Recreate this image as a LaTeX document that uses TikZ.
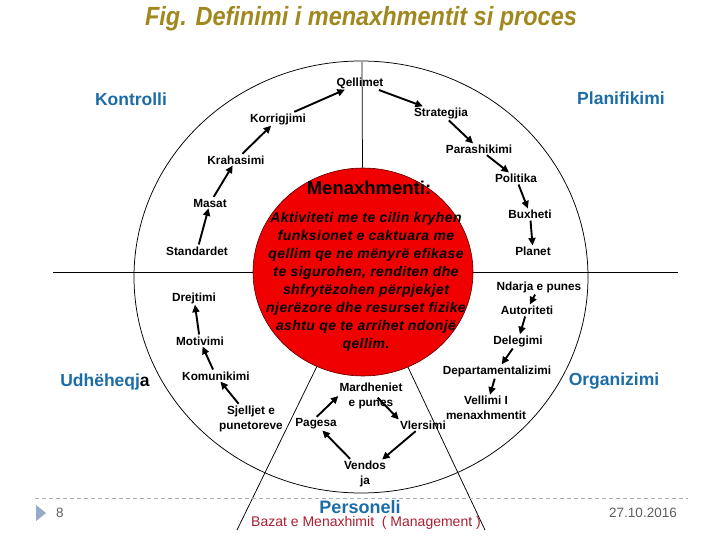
\documentclass[tikz,border=0pt]{standalone}
\usepackage{fontspec}
\setmainfont{Liberation Sans}
\usetikzlibrary{arrows.meta,calc,shapes.geometric}
\definecolor{titlecol}{RGB}{160,136,30}
\definecolor{secblue}{RGB}{28,108,168}
\definecolor{redfill}{RGB}{240,0,0}
\definecolor{redline}{RGB}{90,0,0}
\definecolor{footred}{RGB}{170,30,50}
\definecolor{footgray}{RGB}{95,95,95}
\definecolor{dashgray}{RGB}{170,178,188}
\definecolor{markblue}{RGB}{150,172,198}
\begin{document}
\begin{tikzpicture}[x=1pt,y=-1pt,
  lbl/.style={font=\fontsize{11.8}{15.5}\selectfont\bfseries, inner sep=1pt, align=center},
  sect/.style={font=\fontsize{17.5}{20}\selectfont\bfseries, text=secblue, inner sep=0pt},
  arr/.style={-{Triangle[length=7.5pt,width=7pt]}, line width=1.9pt, shorten <=1pt},
  thinline/.style={line width=0.75pt, draw=black}]

\useasboundingbox (0,0) rectangle (720,540);

% title
\node[font=\fontsize{23.5}{26}\selectfont\bfseries\itshape, text=titlecol, yscale=1.12] (title) at (361,19) {Fig. Definimi i menaxhmentit si proces};

% big circle
\node[ellipse, thinline, minimum width=454pt, minimum height=432pt, inner sep=0pt] (big) at (361,277) {};

% red core
\node[ellipse, fill=redfill, draw=redline, line width=0.6pt, minimum width=220pt, minimum height=208pt, inner sep=0pt] (core) at (363,272) {};

% divider lines
\coordinate (vtop) at (362,62);
\coordinate (lend) at (53,272);
\coordinate (rend) at (678,272);
\coordinate (dlend) at (237,530);
\coordinate (drend) at (485,530);
\draw[thinline] (vtop) -- (core);
\draw[thinline] (lend) -- (core);
\draw[thinline] (core) -- (rend);
\draw[thinline] (core) -- (dlend);
\draw[thinline] (core) -- (drend);

% core text
\node[font=\fontsize{18.5}{20}\selectfont\bfseries, inner sep=0pt] (mtitle) at (369,188) {Menaxhmenti:};
\node[font=\fontsize{14}{18}\selectfont\bfseries\itshape\addfontfeature{LetterSpace=3}, align=center, inner sep=0pt] (mdef) at (366,282)
 {Aktiviteti me te cilin kryhen\\funksionet e caktuara me\\qellim qe ne mënyrë efikase\\te sigurohen, renditen dhe\\shfrytëzohen përpjekjet\\njerëzore dhe resurset fizike\\ashtu qe te arrihet ndonjë\\qellim.};

% sector labels
\node[sect] (kontr) at (131,99) {Kontrolli};
\node[sect] (planif) at (621,98) {Planifikimi};
\node[sect] (organ) at (614,381) {Organizimi};
\node[sect] (udhe) at (105,382) {Udhëheqj\textcolor{black}{a}};

% small labels
\node[lbl] (qel) at (360,83) {Qellimet};
\node[lbl] (kor) at (278,119) {Korrigjimi};
\node[lbl] (kra) at (236,160) {Krahasimi};
\node[lbl] (mas) at (210,203) {Masat};
\node[lbl] (sta) at (197,251) {Standardet};
\node[lbl] (dre) at (194,298) {Drejtimi};
\node[lbl] (mot) at (200,341) {Motivimi};
\node[lbl] (kom) at (216,376) {Komunikimi};
\node[lbl] (sje) at (251,419) {Sjelljet e\\punetoreve};
\node[lbl] (pag) at (316,424) {Pagesa};
\node[lbl] (mar) at (371,396) {Mardheniet\\e punes};
\node[lbl] (vle) at (423,425) {Vlersimi};
\node[lbl] (ven) at (365,474) {Vendos\\ja};
\node[lbl] (vel) at (486,408) {Vellimi I\\menaxhmentit};
\node[lbl] (dep) at (497,371) {Departamentalizimi};
\node[lbl] (del) at (518,341) {Delegimi};
\node[lbl] (aut) at (527,310) {Autoriteti};
\node[lbl] (nda) at (539,287) {Ndarja e punes};
\node[lbl] (pla) at (533,251) {Planet};
\node[lbl] (bux) at (530,214) {Buxheti};
\node[lbl] (pol) at (516,178) {Politika};
\node[lbl] (par) at (479,149) {Parashikimi};
\node[lbl] (str) at (441,113) {Strategjia};

% arrows
\draw[arr] (sta) -- (mas);
\draw[arr] (mas) -- (kra);
\draw[arr] (kra) -- (kor);
\draw[arr] (kor) -- (qel);
\draw[arr] (qel) -- (str);
\draw[arr] (str) -- (par);
\draw[arr] (par) -- (pol);
\draw[arr] (pol) -- (bux);
\draw[arr] (bux) -- (pla);
\draw[arr] (nda) -- (aut);
\draw[arr] (aut) -- (del);
\draw[arr] (del) -- (dep);
\draw[arr] (dep) -- (vel);
\draw[arr] ($(mar.center)+(6,1)$) -- (vle.north west);
\draw[arr] (vle) -- (ven);
\draw[arr] (ven) -- (pag);
\draw[arr] (pag.north) -- (mar.west);
\draw[arr] (sje) -- (kom);
\draw[arr] (kom) -- (mot);
\draw[arr] (mot) -- (dre);

% footer
\draw[dashgray, line width=0.8pt, dash pattern=on 4pt off 3pt] (35,498) -- (688,498);
\fill[markblue] (36,505) -- (46,513) -- (36,521) -- cycle;
\node[font=\fontsize{13.5}{15}\selectfont, text=footgray] (pnum) at (60,513) {8};
\node[font=\fontsize{13.5}{15}\selectfont, text=footgray] (date) at (643,513) {27.10.2016};
\node[font=\fontsize{18}{20}\selectfont\bfseries, text=secblue, inner sep=0pt] (pers) at (360,507) {Personeli};
\node[font=\fontsize{14}{15}\selectfont, text=footred, inner sep=0pt] (bazat) at (366,523) {Bazat e Menaxhimit\ \ ( Management )};
\end{tikzpicture}
\end{document}
